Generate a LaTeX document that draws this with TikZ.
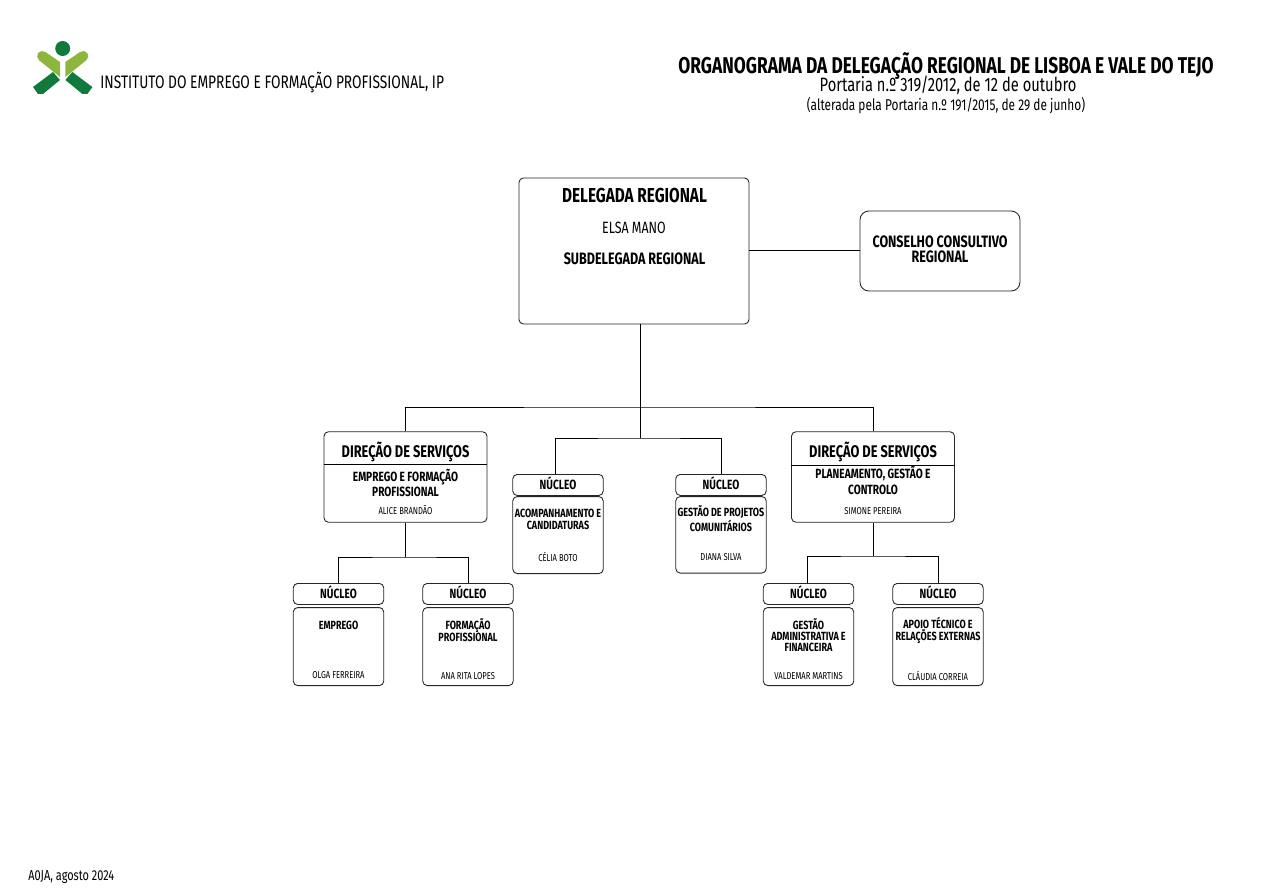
\documentclass[tikz,border=0pt]{standalone}
\usepackage{fontspec}
\setmainfont[FakeStretch=0.76]{Fira Sans}
\usepackage{xcolor}
\usetikzlibrary{positioning,calc}
\definecolor{logoDark}{HTML}{0F7A3C}
\definecolor{logoLight}{HTML}{8DB63C}
\tikzset{
    orgbox/.style={draw=black!85,line width=0.5pt,rounded corners=2.5pt,fill=white,inner sep=0pt},
    orgline/.style={draw=black,line width=0.55pt},
    txt/.style={inner sep=0pt,align=center,font=\bfseries\fontsize{#1}{#1}\selectfont},
    thin txt/.style={inner sep=0pt,align=center,font=\fontsize{#1}{#1}\selectfont}
}
\begin{document}
\begin{tikzpicture}[x=0.02cm,y=-0.02cm]
    \useasboundingbox (0,0) rectangle (1270,895);

    % Logo
    \fill[logoLight] (60,62) [rounded corners=3pt] -- (41,49) -- (35,57) [sharp corners] -- (60,77) -- cycle;
    \fill[logoLight] (65.4,62) [rounded corners=3pt] -- (84.4,49) -- (90.4,57) [sharp corners] -- (65.4,77) -- cycle;
    \fill[logoDark] (53,72) -- (60,80) -- (43,94) -- (38,94) -- (33,87) -- cycle;
    \fill[logoDark] (72.4,72) -- (65.4,80) -- (82.4,94) -- (87.4,94) -- (92.4,87) -- cycle;
    \fill[logoDark] (62.7,48.5) circle (7.5);
    \node[thin txt=10.3,anchor=west] (inst) at (100,82.5) {INSTITUTO DO EMPREGO E FORMAÇÃO PROFISSIONAL, IP};

    % Title
    \node[txt=13] (title) at (946,66) {ORGANOGRAMA DA DELEGAÇÃO REGIONAL DE LISBOA E VALE DO TEJO};
    \node[thin txt=11] (port) at (948,85.5) {Portaria n.º 319/2012, de 12 de outubro};
    \node[thin txt=8.9] (alter) at (946,105.5) {(alterada pela Portaria n.º 191/2015, de 29 de junho)};

    % Top boxes
    \node[orgbox,minimum width=4.6cm,minimum height=2.92cm] (dele) at (634,251) {};
    \node[orgbox,minimum width=3.2cm,minimum height=1.6cm,rounded corners=5pt] (cons) at (940,251) {};
    \node[txt=11.5] (deleA) at (634.5,195) {DELEGADA REGIONAL};
    \node[thin txt=9.3] (deleB) at (634,227.5) {ELSA MANO};
    \node[txt=9.4] (deleC) at (634.5,258.5) {SUBDELEGADA REGIONAL};
    \node[txt=9.4] (consA) at (940,249.5) {CONSELHO CONSULTIVO\\[-1pt]REGIONAL};

    % Direcoes de servicos
    \foreach \nm/\cx/\dy/\sub/\sy/\who/\wy in {dirA/405.5/464/{EMPREGO E FORMAÇÃO\\[1pt]PROFISSIONAL}/483/ALICE BRANDÃO/510,
                                               dirB/873/465/{PLANEAMENTO, GESTÃO E\\[1pt]CONTROLO}/480.5/SIMONE PEREIRA/511.5} {
        \node[orgbox,minimum width=3.26cm,minimum height=1.81cm] (\nm) at (\cx,477) {};
        \draw[black,line width=0.5pt] (\nm.west |- 0,\dy) -- (\nm.east |- 0,\dy);
        \node[txt=9.6] (\nm head) at (\cx,451.5) {DIREÇÃO DE SERVIÇOS};
        \node[txt=7.6] (\nm sub) at (\cx,\sy) {\sub};
        \node[thin txt=5.7] (\nm who) at (\cx,\wy) {\who};
    }

    % Nucleos
    \foreach \nm/\cx/\ty/\tb/\by/\sub/\sy/\who/\wy in {
        nucA/558/474/497/574/{ACOMPANHAMENTO E\\CANDIDATURAS}/519/CÉLIA BOTO/557,
        nucB/721/474/497/573.5/{GESTÃO DE PROJETOS\\COMUNITÁRIOS}/519/DIANA SILVA/557,
        nucC/338.5/583/608/686/EMPREGO/625.5/OLGA FERREIRA/675,
        nucD/468/583/608/686/{FORMAÇÃO\\PROFISSIONAL}/630/ANA RITA LOPES/676,
        nucE/808.5/583/608/686/{GESTÃO\\[-0.5pt]ADMINISTRATIVA E\\[-0.5pt]FINANCEIRA}/635/VALDEMAR MARTINS/676,
        nucF/938/583/608/686/{APOIO TÉCNICO E\\RELAÇÕES EXTERNAS}/630.5/CLÁUDIA CORREIA/676} {
        \node[orgbox,minimum width=1.81cm,minimum height=0.42cm,anchor=north] (\nm) at (\cx,\ty) {};
        \node[txt=7.6] (\nm head) at (\cx,\ty+9.5) {NÚCLEO};
        \pgfmathsetmacro{\boxh}{(\by-\tb)*0.02}
        \node[orgbox,minimum width=1.81cm,minimum height=\boxh cm,anchor=south] (\nm body) at (\cx,\by) {};
        \node[txt=6.75] (\nm sub) at (\cx,\sy) {\sub};
        \node[thin txt=5.7] (\nm who) at (\cx,\wy) {\who};
    }

    % Connectors
    \coordinate (consIn) at (860,250);
    \coordinate (busTop) at (640,407);
    \coordinate (busMid) at (640,438);
    \coordinate (busA) at (405.5,557);
    \coordinate (busB) at (873,556);
    \coordinate (dropA) at (555,438);
    \coordinate (dropB) at (807,556);
    \draw[orgline] (dele.east |- consIn) -- (consIn);
    \draw[orgline] (dele.south -| busTop) -- (busMid);
    \draw[orgline] (dirA.north) |- (busTop) -| (dirB.north);
    \draw[orgline] (nucA.north -| dropA) -- (dropA) -- (busMid) -| (nucB.north);
    \draw[orgline] (dirA.south) -- (busA);
    \draw[orgline] (nucC.north) |- (busA) -| (nucD.north);
    \draw[orgline] (dirB.south) -- (busB);
    \draw[orgline] (nucE.north -| dropB) -- (dropB) -- (busB) -| (nucF.north);

    % Footer
    \node[thin txt=8.2,anchor=west] (foot) at (28,877) {A0JA, agosto 2024};
\end{tikzpicture}
\end{document}
